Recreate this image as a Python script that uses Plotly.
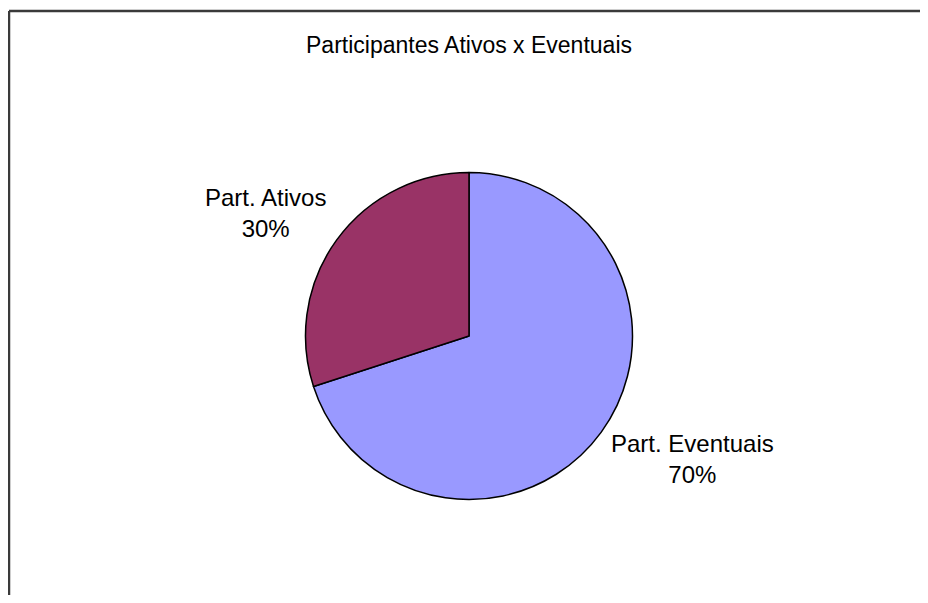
import plotly.graph_objects as go

labels = ["Part. Eventuais", "Part. Ativos"]
values = [70, 30]
colors = ["#9999FF", "#993366"]
title = "Participantes Ativos x Eventuais"

OFF = 8  # page body margin
W, H = 928 - OFF, 603 - 2 * OFF  # keep the page free of scrollbars
cx, cy, r = 469 - OFF, 336 - OFF, 163.5
FONT = "Liberation Sans, Arial"

fig = go.Figure()
fig.add_trace(go.Pie(
    labels=labels,
    values=values,
    sort=False,
    direction="clockwise",
    rotation=0,
    marker=dict(colors=colors, line=dict(color="black", width=1.5)),
    textinfo="none",
    showlegend=False,
    hoverinfo="label+percent",
    domain=dict(x=[(cx - r) / W, (cx + r) / W], y=[1 - (cy + r) / H, 1 - (cy - r) / H]),
))

# data labels (label + share), placed outside the slices like the original
total = sum(values)
label_pos = [(692 - OFF, 459 - OFF), (265 - OFF, 213 - OFF)]
for lab, val, (px, py) in zip(labels, values, label_pos):
    fig.add_annotation(
        x=px / W, y=1 - py / H, xref="paper", yref="paper",
        text=f"{lab}<br>{round(100 * val / total)}%",
        showarrow=False, xanchor="center", yanchor="middle", align="center",
        font=dict(family=FONT, size=24, color="black"),
    )

# chart frame (only top and left edges fall inside the window)
fx, fy = (9 - OFF) / W, 1 - (11 - OFF) / H
fig.add_shape(type="line", xref="paper", yref="paper", x0=fx, x1=1.02, y0=fy, y1=fy,
              line=dict(color="#3a3a3a", width=2.5))
fig.add_shape(type="line", xref="paper", yref="paper", x0=fx, x1=fx, y0=-0.02, y1=fy,
              line=dict(color="#3a3a3a", width=2.5))

fig.update_layout(
    width=W, height=H,
    margin=dict(l=0, r=0, t=0, b=0),
    paper_bgcolor="white",
    plot_bgcolor="white",
    title=dict(text=title, x=(469 - OFF) / W, xanchor="center", y=1 - (45 - OFF) / H, yanchor="middle",
               font=dict(family=FONT, size=23, color="black")),
)

fig.write_html("out.html")
